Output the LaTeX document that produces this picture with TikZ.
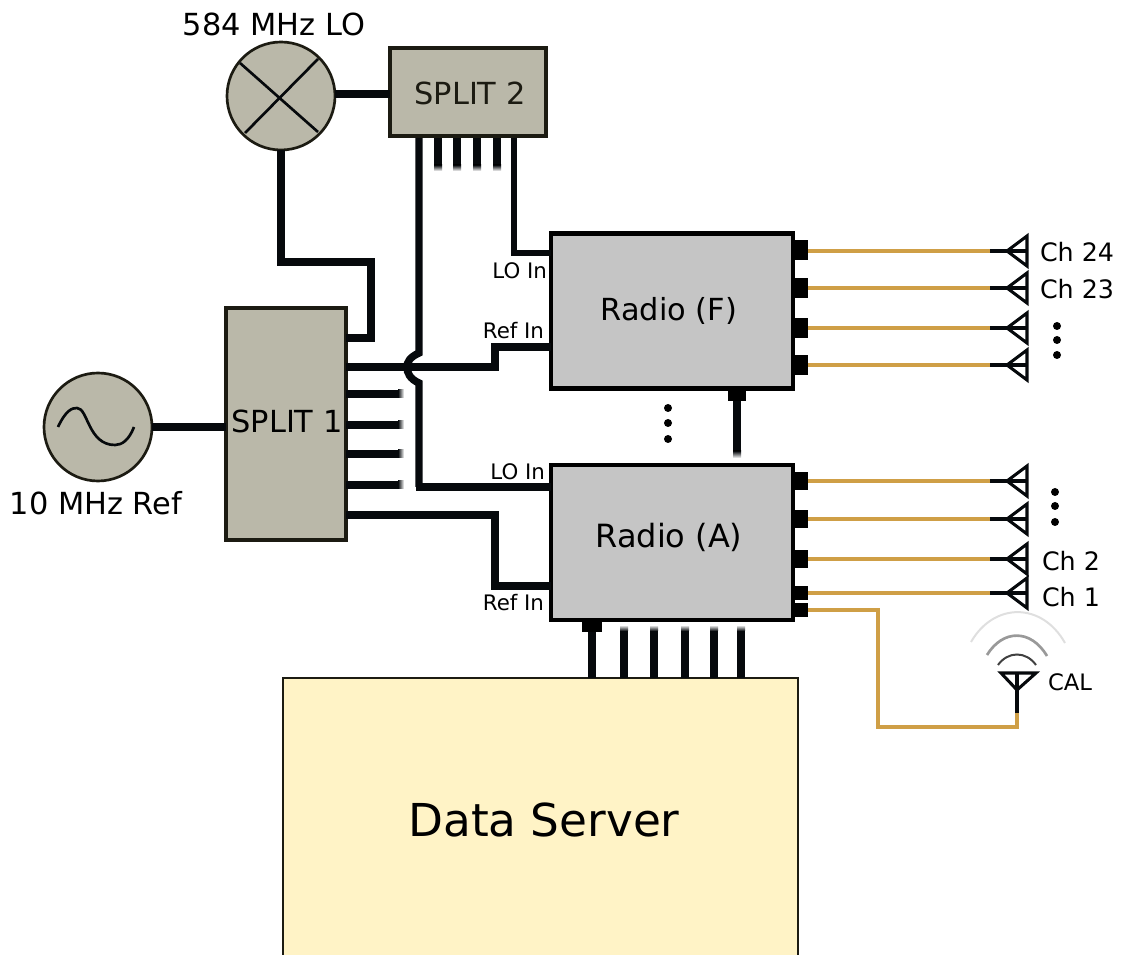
\documentclass[tikz,border=0pt]{standalone}
\usepackage{fontspec}
\usepackage{xcolor}
\setmainfont{DejaVu Sans}
\usetikzlibrary{positioning}
\definecolor{rWire}{RGB}{6,9,12}
\definecolor{rGold}{RGB}{207,159,70}
\definecolor{rSplit}{RGB}{186,184,169}
\definecolor{rEdge}{RGB}{28,27,18}
\definecolor{rRadio}{RGB}{197,197,197}
\definecolor{rServer}{RGB}{255,243,198}

\begin{document}
\begin{tikzpicture}[
  x=0.75pt, y=-0.75pt,
  every node/.style={inner sep=0pt, outer sep=0pt},
  wire/.style={draw=rWire, line width=5.6pt},
  stub/.style={draw=rWire, line width=6pt},
  thinwire/.style={draw=rWire, line width=4.8pt},
  coax/.style={draw=rGold, line width=2.8pt},
  antenna/.style={draw=rWire, line width=2.3pt, line join=miter},
  splitbox/.style={draw=rEdge, fill=rSplit, line width=3.2pt},
  radiobox/.style={draw=black, fill=rRadio, line width=3.4pt, minimum width=181.5pt, minimum height=116pt},
  source/.style={circle, draw=rEdge, fill=rSplit, line width=2pt, minimum size=81pt},
  port/.style={fill=black, minimum width=11pt, minimum height=14.5pt},
  inlabel/.style={anchor=east, font=\fontsize{16}{18}\selectfont},
  chlabel/.style={anchor=west, font=\fontsize{19}{22}\selectfont},
  biglabel/.style={font=\fontsize{22.8}{26}\selectfont},
  vdot/.style={circle, fill=black, minimum size=6pt}
]
  \clip (0,0) rectangle (1122,955);
  \useasboundingbox (0,0) rectangle (1122,955);

  % boxes
  \node[source] (lo) at (281,96) {};
  \node[source] (ref) at (98,427) {};
  \node[splitbox, minimum width=117pt, minimum height=66pt] (split2) at (468,92) {};
  \node[splitbox, minimum width=90pt, minimum height=174pt] (split1) at (286,424) {};
  \node[radiobox] (radiof) at (672,311) {};
  \node[radiobox] (radioa) at (672,542.5) {};
  \node[biglabel, text=rEdge] (split2name) at (470,93) {SPLIT 2};
  \node[biglabel, text=black] (split1name) at (287,421) {SPLIT 1};
  \node[biglabel] (radiofname) at (669,311) {Radio (F)};
  \node[font=\fontsize{24}{28}\selectfont] (radioaname) at (669,537) {Radio (A)};
  \node[draw=rEdge, fill=rServer, line width=1.6pt, minimum width=386pt, minimum height=240pt, anchor=north west] (server) at (283,678) {};
  \node (servername) at (544,820) [font=\fontsize{34}{40}\selectfont] {Data Server};

  % source symbols
  \draw[rWire, line width=2pt] (240,63) -- (318,132);
  \draw[rWire, line width=2pt] (318,59) -- (245,133);
  \draw[rWire, line width=2pt] (58,427) .. controls (66,410) and (72,408) .. (77,408) .. controls (88,408) and (88,445) .. (115,445) .. controls (122,445) and (129,440) .. (134,427);

  % labels
  \node[biglabel] (lolabel) at (274,24) {584 MHz LO};
  \node[biglabel] (reflabel) at (96,503) {10 MHz Ref};
  \node[inlabel] (loinf) at (547,271) {LO In};
  \node[inlabel] (refinf) at (544,331) {Ref In};
  \node[inlabel] (loina) at (545,472) {LO In};
  \node[inlabel] (refina) at (544,603) {Ref In};

  % LO and reference wiring
  \draw[stub] (lo.east |- 0,94) -- (split2.west |- 0,94);
  \draw[wire] (ref.east |- 0,427) -- (split1.west |- 0,427);
  \draw[wire] (lo.south) -- (281,262) -- (371,262) -- (371,338) -- (split1.east |- 0,338);
  \draw[thinwire] (514,138) -- (514,253) -- (radiof.west |- 0,253);
  \draw[wire] (419,138) -- (419,353) .. controls (410,357) and (407,362) .. (407,367) .. controls (407,373) and (410,379) .. (419,383) -- (419,487);
  \draw[wire] (416,487) -- (radioa.west |- 0,487);
  \draw[wire] (split1.east |- 0,367) -- (495,367) -- (495,347) -- (radiof.west |- 0,347);
  \draw[wire] (split1.east |- 0,515) -- (495,515) -- (495,586) -- (radioa.west |- 0,586);

  % cut-off outputs
  \foreach \y in {394,425,454,485} {
    \draw[stub] (split1.east |- 0,\y) -- (398,\y);
    \shade[left color=rWire, right color=white] (398,\y-4) rectangle (404,\y+4);
  }
  \foreach \x in {438,457,477,497} {
    \draw[stub] (\x,138) -- (\x,165);
    \shade[top color=rWire, bottom color=white] (\x-4,165) rectangle (\x+4,171);
  }
  \foreach \x in {624,654,685,714,741} {
    \draw[stub] (\x,678) -- (\x,631);
    \shade[top color=white, bottom color=rWire] (\x-4,625) rectangle (\x+4,631);
  }

  % radio to radio, radio to server
  \node[port, minimum width=14pt, minimum height=8pt] (portfdown) at (737,395.5) {};
  \node[port, minimum width=15pt, minimum height=9pt] (portaserver) at (592,626) {};
  \draw[stub] (portfdown) -- (737,451);
  \shade[top color=rWire, bottom color=white] (733,451) rectangle (741,458);
  \draw[wire] (portaserver) -- (592,678);

  % radio ports and feeds
  \foreach \name/\y/\h in {f/250/14.5, e/288/14.5, d/328/14.5, c/365/14.5, a/481/14, b/519/14, h/559/14, g/593/10, k/610/10.5} {
    \node[port, minimum height=\h pt] (port\name) at (801,\y) {};
  }
  \foreach \name/\y in {f/251, e/288, d/328, c/365, a/481, b/519, h/559, g/593} {
    \coordinate (feed\name) at (990,\y);
    \draw[coax] (port\name.east |- 0,\y) -- (feed\name);
    \draw[antenna] (feed\name) -- (1027,\y);
    \draw[antenna] (1027,\y-15) -- (1007,\y) -- (1027,\y+15) -- cycle;
  }

  % calibration antenna
  \coordinate (caltip) at (1017,713);
  \draw[coax] (portk.east |- 0,610) -- (878,610) -- (878,727) -- (1017,727) -- (caltip);
  \draw[antenna] (caltip) -- (1017,672);
  \draw[antenna] (1001,673) -- (1036,673) -- (1017,690) -- cycle;
  \draw[gray!50!black, line width=1.5pt] (998,665) .. controls (1008,651) and (1026,651) .. (1036,665);
  \draw[gray!80, line width=2pt] (987,655) .. controls (1003,629) and (1031,629) .. (1047,656);
  \draw[gray!25, line width=1.5pt] (971,642) .. controls (994,602) and (1042,602) .. (1065,643);
  \node[anchor=west, font=\fontsize{17}{20}\selectfont] (callabel) at (1048,682) {CAL};

  % channel labels
  \node[chlabel] (ch24) at (1040,252) {Ch 24};
  \node[chlabel] (ch23) at (1040,289) {Ch 23};
  \node[chlabel] (ch2) at (1042,561) {Ch 2};
  \node[chlabel] (ch1) at (1042,597) {Ch 1};

  % continuation dots
  \foreach \y [count=\i] in {326,340,355} { \node[vdot] (dotf\i) at (1057,\y) {}; }
  \foreach \y [count=\i] in {492,506,522} { \node[vdot] (dota\i) at (1055,\y) {}; }
  \foreach \y [count=\i] in {408,423,439} { \node[vdot] (dotr\i) at (668,\y) {}; }
\end{tikzpicture}
\end{document}
